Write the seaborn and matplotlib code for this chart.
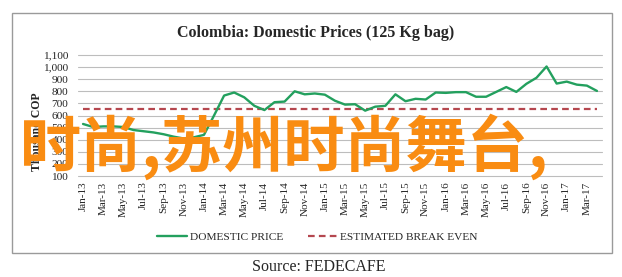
import matplotlib
matplotlib.use("Agg")
import matplotlib.pyplot as plt
import seaborn as sns
import pandas as pd
from matplotlib.patches import Rectangle

# ---- data ----
months = pd.date_range("2013-01-01", periods=52, freq="MS").strftime("%b-%y").tolist()
domestic_price = [530, 505, 510, 510, 505, 480, 470, 460, 445, 425, 410, 420,
                  440, 600, 765, 790, 750, 680, 645, 710, 715, 800, 775, 782,
                  772, 722, 690, 693, 640, 673, 680, 775, 718, 738, 732, 790,
                  787, 793, 793, 755, 755, 795, 835, 795, 862, 912, 1005, 864,
                  880, 855, 847, 803]
break_even_value = 650
break_even = [break_even_value] * len(months)
y_ticks = list(range(100, 1101, 100))
title = "Colombia: Domestic Prices (125 Kg bag)"
y_label = "Thousand COP"
source = "Source: FEDECAFE"
watermark = "时尚,苏州时尚舞台,"

df = pd.DataFrame({"month": months, "DOMESTIC PRICE": domestic_price,
                   "ESTIMATED BREAK EVEN": break_even})

sns.set_theme(style="white")
plt.rcParams["font.family"] = ["Liberation Serif", "DejaVu Serif"]

W, H = 622, 277
fig = plt.figure(figsize=(W / 100, H / 100), dpi=100)
ax = fig.add_axes([78 / W, 1 - 176 / H, (602 - 78) / W, (176 - 55) / H])

green = "#23a05e"
red = "#b5474f"
sns.lineplot(data=df, x="month", y="DOMESTIC PRICE", ax=ax, color=green,
             linewidth=1.7, sort=False, label="DOMESTIC PRICE", zorder=3)
sns.lineplot(data=df, x="month", y="ESTIMATED BREAK EVEN", ax=ax, color=red,
             linewidth=1.6, sort=False, label="ESTIMATED BREAK EVEN",
             dashes=False, zorder=2)
ax.lines[1].set_linestyle((0, (3.0, 1.9)))

ax.set_xlim(-0.5, len(months) - 0.5)
ax.set_ylim(100, 1100)
ax.set_yticks(y_ticks)
ax.set_yticklabels([f"{v:,}" for v in y_ticks], fontsize=8.2)
ax.set_xticks(range(0, len(months), 2))
ax.set_xticklabels(months[::2], rotation=90, fontsize=8.0)
ax.tick_params(axis="y", length=0, pad=7)
ax.tick_params(axis="x", length=0, pad=4)
ax.set_xlabel("")
ax.set_ylabel("")
for s in ax.spines.values():
    s.set_visible(False)
ax.grid(axis="y", color="#bdbdbd", linewidth=0.8)
ax.grid(axis="x", visible=False)
for gl in ax.get_ygridlines():
    gl.set_clip_on(False)
ax.get_legend().remove()

handles, labels = ax.get_legend_handles_labels()
fig.legend(handles, labels, loc="center", bbox_to_anchor=(317.5 / W, 1 - 237.5 / H),
           ncol=2, frameon=False, fontsize=8.2, handlelength=2.6,
           handletextpad=0.25, columnspacing=2.2)

fig.text(316 / W, 1 - 33 / H, title, ha="center", va="center",
         fontsize=11.5, fontweight="bold")
fig.text(37 / W, 1 - 132 / H, y_label, ha="center", va="center", rotation=90,
         fontsize=8.5, fontweight="bold")
fig.text(319 / W, 1 - 267 / H, source, ha="center", va="center", fontsize=11.5)

fig.patches.append(Rectangle((12 / W, 1 - 253 / H), (612 - 12) / W, (253 - 13) / H,
                             transform=fig.transFigure, fill=False,
                             edgecolor="#9a9a9a", linewidth=1.0))

fig.text(20 / W, 1 - 147 / H, watermark, ha="left", va="center", fontsize=44,
         fontweight="bold", color="#f98c12", family=["Noto Sans CJK SC", "DejaVu Sans"],
         zorder=10)

fig.savefig("out.png", dpi=100)
